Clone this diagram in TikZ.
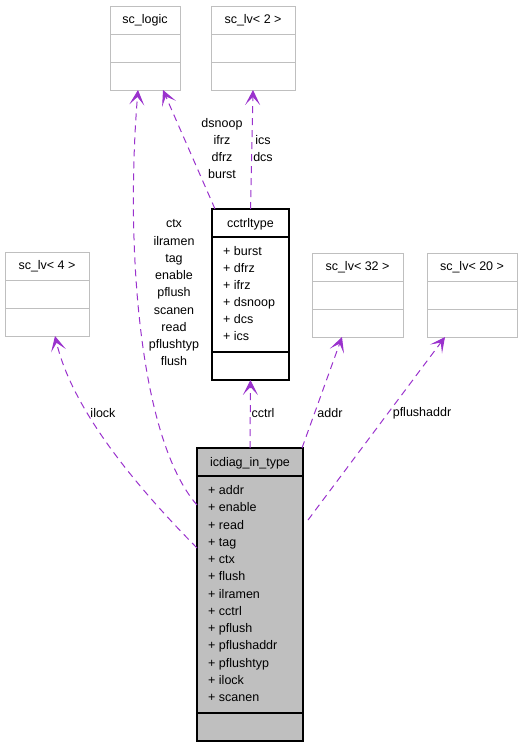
\documentclass[tikz,border=0pt]{standalone}
\usepackage{fontspec}
\setmainfont{Liberation Sans}
\usepackage{xcolor}
\usetikzlibrary{arrows.meta,positioning}

\definecolor{edgepurple}{HTML}{9A32CD}
\definecolor{boxgray}{HTML}{BFBFBF}

\begin{document}
\begin{tikzpicture}[x=1pt, y=-1pt,
  font=\fontsize{12.5}{17.25}\selectfont,
  classbox/.style={rectangle, draw=boxgray, line width=1pt, inner sep=0pt, outer sep=0pt, anchor=north west},
  usedbox/.style={classbox, draw=black, line width=1.2pt},
  mainbox/.style={usedbox, fill=boxgray},
  classtitle/.style={anchor=base, inner sep=0pt},
  member/.style={anchor=base west, inner sep=0pt},
  rowline/.style={draw=boxgray, line width=1pt},
  userowline/.style={draw=black, line width=1.2pt},
  uses/.style={-{Stealth[length=15pt, width=15pt, inset=8pt]}, draw=edgepurple, line width=1pt, dash pattern=on 7pt off 5pt},
  edgelabel/.style={align=center, inner sep=0pt}
]
\useasboundingbox (0,0) rectangle (523,747);

% Used types (no members shown)
\node[classbox, minimum width=70pt, minimum height=84pt] (logic) at (110,6) {};
\node[classbox, minimum width=84pt, minimum height=84pt] (lvtwo) at (211,6) {};
\node[classbox, minimum width=84pt, minimum height=84pt] (lvfour) at (5,252) {};
\node[classbox, minimum width=91pt, minimum height=84pt] (lvthirtytwo) at (312,253) {};
\node[classbox, minimum width=90pt, minimum height=84pt] (lvtwenty) at (427,253) {};

\node[classtitle] (logic-t) at ([yshift=-17pt]logic.north) {sc\_logic};
\node[classtitle] (lvtwo-t) at ([yshift=-17pt]lvtwo.north) {sc\_lv< 2 >};
\node[classtitle] (lvfour-t) at ([yshift=-17pt]lvfour.north) {sc\_lv< 4 >};
\node[classtitle] (lvthirtytwo-t) at ([yshift=-17pt]lvthirtytwo.north) {sc\_lv< 32 >};
\node[classtitle] (lvtwenty-t) at ([yshift=-17pt]lvtwenty.north) {sc\_lv< 20 >};

\foreach \b in {logic,lvtwo,lvfour,lvthirtytwo,lvtwenty} {
  \draw[rowline] ([yshift=-28pt]\b.north west) -- ([yshift=-28pt]\b.north east);
  \draw[rowline] ([yshift=-56pt]\b.north west) -- ([yshift=-56pt]\b.north east);
}

% cctrltype
\node[usedbox, minimum width=77pt, minimum height=171pt] (cctrl) at (212,209) {};
\node[classtitle] (cctrl-t) at ([yshift=-18pt]cctrl.north) {cctrltype};
\draw[userowline] ([yshift=-28pt]cctrl.north west) -- ([yshift=-28pt]cctrl.north east);
\draw[userowline] ([yshift=28pt]cctrl.south west) -- ([yshift=28pt]cctrl.south east);
\foreach \m [count=\i, evaluate=\i as \ty using -46-17*(\i-1)] in {burst,dfrz,ifrz,dsnoop,dcs,ics}
  \node[member] (cctrl-\i) at ([xshift=11pt, yshift=\ty pt]cctrl.north west) {+ \m};

% icdiag_in_type
\node[mainbox, minimum width=106pt, minimum height=293pt] (icdiag) at (197,448) {};
\node[classtitle] (icdiag-t) at ([yshift=-18pt]icdiag.north) {icdiag\_in\_type};
\draw[userowline] ([yshift=-28pt]icdiag.north west) -- ([yshift=-28pt]icdiag.north east);
\draw[userowline] ([yshift=28pt]icdiag.south west) -- ([yshift=28pt]icdiag.south east);
\foreach \m [count=\i, evaluate=\i as \ty using -46.5-17.25*(\i-1)] in {addr,enable,read,tag,ctx,flush,ilramen,cctrl,pflush,pflushaddr,pflushtyp,ilock,scanen}
  \node[member] (icdiag-\i) at ([xshift=11pt, yshift=\ty pt]icdiag.north west) {+ \m};

% usage relations
\draw[uses] ([yshift=46.5pt]icdiag.west) .. controls (120,470) and (70,400) .. ([xshift=8pt]lvfour.south);
\draw[uses] ([yshift=89.5pt]icdiag.west) .. controls (140,440) and (125,250) .. ([xshift=-7pt]logic.south);
\draw[uses] ([xshift=3pt]cctrl.north west) -- ([xshift=18pt]logic.south);
\draw[uses] (cctrl.north) -- (lvtwo.south);
\draw[uses] (icdiag.north) -- (cctrl.south);
\draw[uses] ([xshift=-1pt]icdiag.north east) -- ([xshift=-15.5pt]lvthirtytwo.south);
\draw[uses] ([xshift=5pt, yshift=74.5pt]icdiag.east) -- ([xshift=-27pt]lvtwenty.south);

% relation labels
\node[edgelabel] (ilock-l) at (103,413) {ilock};
\node[edgelabel] (logic-l) at (174,293) {ctx\\ilramen\\tag\\enable\\pflush\\scanen\\read\\pflushtyp\\flush};
\node[edgelabel] (burst-l) at (222,148.5) {dsnoop\\ifrz\\dfrz\\burst};
\node[edgelabel] (ics-l) at (263,148.5) {ics\\dcs};
\node[edgelabel] (cctrl-l) at (263,413) {cctrl};
\node[edgelabel] (addr-l) at (330,413) {addr};
\node[edgelabel] (pflushaddr-l) at (422,413) {pflushaddr};

\end{tikzpicture}
\end{document}
